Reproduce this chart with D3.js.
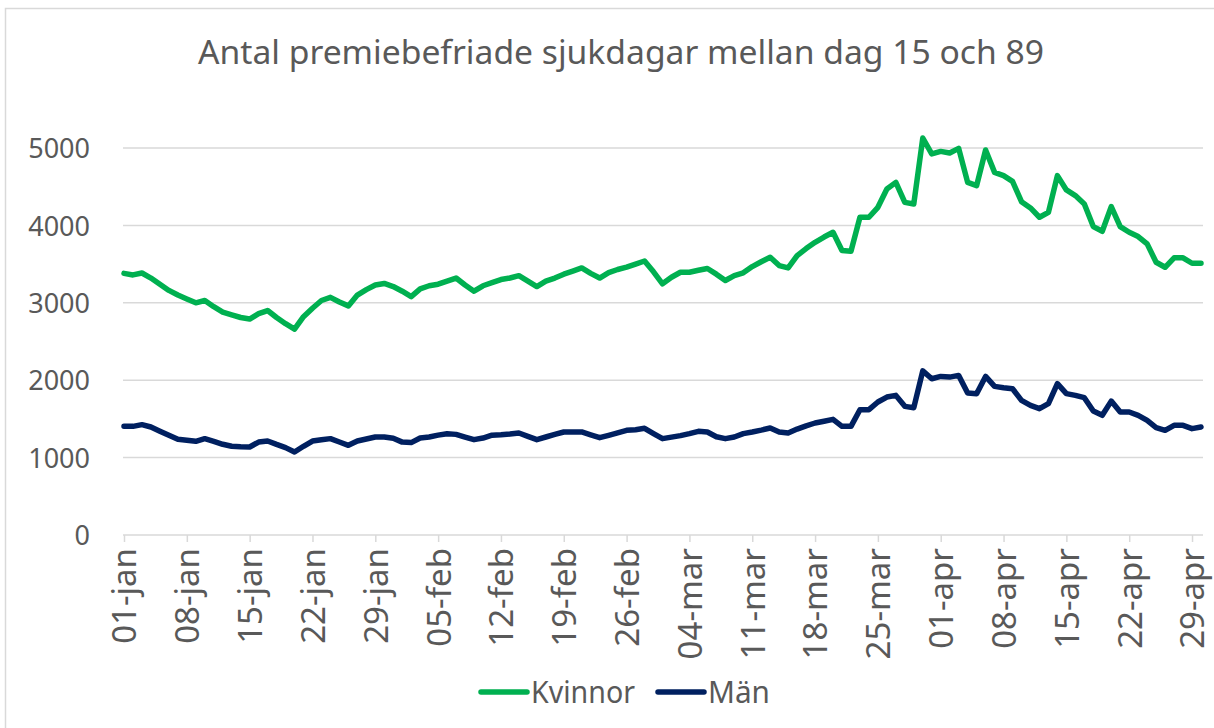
<!DOCTYPE html>
<html>
<head>
<meta charset="utf-8">
<script src="https://cdn.jsdelivr.net/npm/d3@7"></script>
<style>
  html, body { margin: 0; padding: 0; background: #fff; }
  svg { display: block; }
  text { font-family: "Noto Sans", "Open Sans", sans-serif; fill: #595959; }
</style>
</head>
<body>
<svg id="chart" width="1214" height="728"></svg>
<script>
// Daily counts from 1 January to 30 April 2020
const startDate = new Date(2020, 0, 1);
const tickLabels = ["01-jan","08-jan","15-jan","22-jan","29-jan","05-feb","12-feb","19-feb","26-feb",
                    "04-mar","11-mar","18-mar","25-mar","01-apr","08-apr","15-apr","22-apr","29-apr"];
const seriesNames = ["Kvinnor", "Män"];
const seriesColors = ["#00B050", "#002060"];

const kvinnor = [
  3380, 3360, 3385, 3320, 3240, 3160, 3100, 3050, 3000, 3030,
  2950, 2880, 2845, 2810, 2790, 2860, 2900, 2810, 2730, 2660,
  2820, 2930, 3030, 3070, 3010, 2960, 3100, 3170, 3230, 3250,
  3210, 3150, 3080, 3180, 3220, 3240, 3280, 3320, 3230, 3150,
  3220, 3260, 3300, 3320, 3350, 3280, 3210, 3280, 3320, 3370,
  3410, 3450, 3380, 3320, 3390, 3430, 3460, 3500, 3540, 3400,
  3245, 3330, 3395, 3395, 3420, 3443, 3370, 3288, 3352, 3387,
  3468, 3530, 3588, 3481, 3451, 3610, 3700, 3782, 3850, 3911,
  3675, 3666, 4105, 4105, 4234, 4471, 4556, 4298, 4277, 5129,
  4923, 4956, 4935, 4995, 4556, 4514, 4974, 4685, 4643, 4569,
  4307, 4226, 4105, 4169, 4643, 4458, 4385, 4277, 3985, 3924,
  4243, 3985, 3911, 3856, 3761, 3524, 3459, 3581, 3581, 3511,
  3511
];

const man = [
  1404, 1404, 1426, 1395, 1340, 1288, 1236, 1225, 1210, 1245,
  1210, 1172, 1146, 1140, 1137, 1201, 1214, 1170, 1129, 1072,
  1146, 1214, 1230, 1245, 1201, 1159, 1214, 1240, 1266, 1266,
  1250, 1200, 1194, 1253, 1266, 1290, 1309, 1300, 1265, 1232,
  1253, 1290, 1296, 1305, 1318, 1275, 1232, 1266, 1300, 1331,
  1331, 1331, 1295, 1258, 1288, 1320, 1352, 1361, 1378, 1310,
  1245, 1265, 1284, 1310, 1339, 1331, 1270, 1245, 1266, 1310,
  1331, 1355, 1382, 1331, 1318, 1369, 1410, 1447, 1470, 1494,
  1404, 1404, 1619, 1619, 1718, 1782, 1804, 1662, 1645, 2120,
  2019, 2049, 2040, 2062, 1834, 1826, 2049, 1920, 1903, 1890,
  1739, 1675, 1632, 1697, 1955, 1826, 1804, 1774, 1601, 1546,
  1730, 1589, 1589, 1546, 1481, 1387, 1352, 1417, 1417, 1374,
  1395
];

const yTicks = [0, 1000, 2000, 3000, 4000, 5000];

const dates = kvinnor.map((_, i) => d3.timeDay.offset(startDate, i));
const tickDates = tickLabels.map((_, i) => d3.timeDay.offset(startDate, i * 7));

const svg = d3.select("#chart");

// chart frame
svg.append("rect")
  .attr("x", 5.5).attr("y", 8.5)
  .attr("width", 1220).attr("height", 740)
  .attr("fill", "#fff").attr("stroke", "#d9d9d9").attr("stroke-width", 1.5);

const x = d3.scaleTime()
  .domain([dates[0], dates[dates.length - 1]])
  .range([124, 1201]);
const y = d3.scaleLinear().domain([0, 5000]).range([535, 148]);

// title
svg.append("text")
  .attr("x", 621).attr("y", 64)
  .attr("text-anchor", "middle")
  .attr("font-size", 33)
  .attr("textLength", 846).attr("lengthAdjust", "spacingAndGlyphs")
  .text("Antal premiebefriade sjukdagar mellan dag 15 och 89");

// horizontal gridlines
svg.append("g")
  .selectAll("line")
  .data(yTicks.filter(d => d > 0))
  .join("line")
  .attr("x1", 123).attr("x2", 1203)
  .attr("y1", d => y(d)).attr("y2", d => y(d))
  .attr("stroke", "#d9d9d9").attr("stroke-width", 1.5);

// y axis labels
const yAxis = d3.axisLeft(y).tickValues(yTicks).tickSize(0).tickPadding(0).tickFormat(d3.format("d"));
const gy = svg.append("g").attr("transform", "translate(90,0)").call(yAxis);
gy.select(".domain").remove();
gy.selectAll("text")
  .attr("font-size", 27)
  .attr("dy", "0.36em")
  .attr("fill", "#595959")
  .style("font-family", "'Noto Sans', sans-serif");

// x axis
const xAxis = d3.axisBottom(x).tickValues(tickDates).tickSize(7)
  .tickFormat((d, i) => tickLabels[i]);
const gx = svg.append("g").attr("transform", "translate(0,535)").call(xAxis);
gx.select(".domain")
  .attr("d", "M123,0H1203")
  .attr("stroke", "#d9d9d9").attr("stroke-width", 1.5);
gx.selectAll(".tick line").attr("stroke", "#d9d9d9").attr("stroke-width", 1.5);
gx.selectAll(".tick text")
  .attr("transform", "rotate(-90)")
  .attr("text-anchor", "end")
  .attr("x", -13).attr("y", 0).attr("dy", "0.36em")
  .attr("font-size", 33)
  .attr("fill", "#595959")
  .style("font-family", "'Noto Sans', sans-serif");

// series lines
const line = d3.line()
  .x((d, i) => x(dates[i]))
  .y(d => y(d));

[kvinnor, man].forEach((values, k) => {
  svg.append("path")
    .datum(values)
    .attr("d", line)
    .attr("fill", "none")
    .attr("stroke", seriesColors[k])
    .attr("stroke-width", 5.5)
    .attr("stroke-linejoin", "round")
    .attr("stroke-linecap", "round");
});

// legend
const legendItems = [
  { name: seriesNames[0], color: seriesColors[0], x: 481, w: 104 },
  { name: seriesNames[1], color: seriesColors[1], x: 658, w: 62 }
];
const lg = svg.append("g");
legendItems.forEach(it => {
  lg.append("line")
    .attr("x1", it.x).attr("x2", it.x + 46)
    .attr("y1", 692).attr("y2", 692)
    .attr("stroke", it.color).attr("stroke-width", 5.5)
    .attr("stroke-linecap", "round");
  lg.append("text")
    .attr("x", it.x + 50).attr("y", 703)
    .attr("font-size", 30)
    .attr("textLength", it.w).attr("lengthAdjust", "spacingAndGlyphs")
    .text(it.name);
});
</script>
</body>
</html>
